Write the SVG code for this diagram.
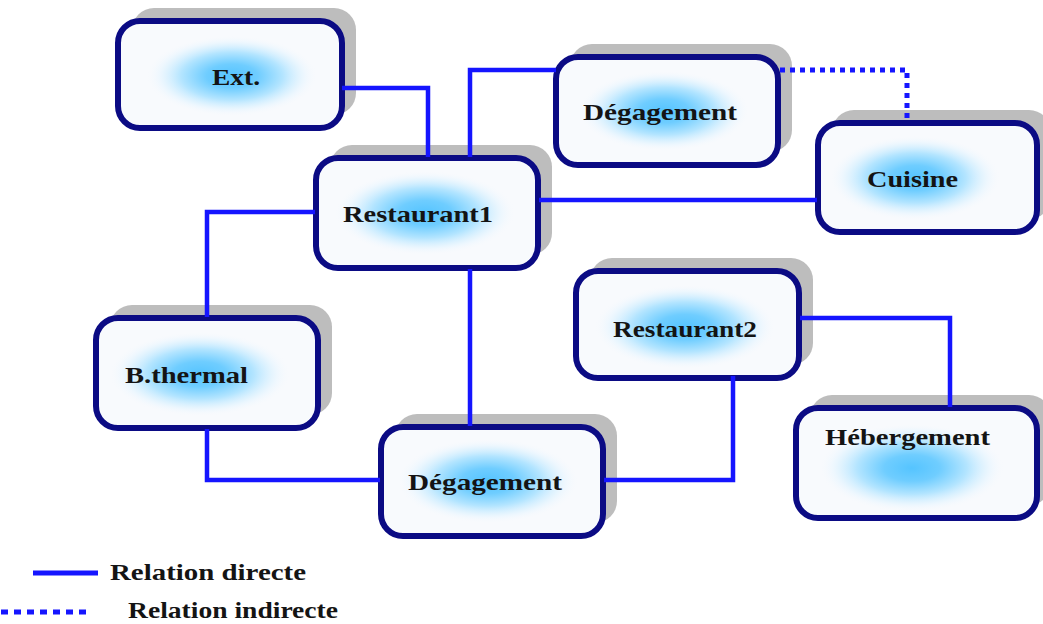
<svg xmlns="http://www.w3.org/2000/svg" width="1043" height="624" viewBox="0 0 1043 624">
<defs>
<radialGradient id="glow" cx="0.5" cy="0.5" r="0.5">
<stop offset="0" stop-color="#55c4ff"/>
<stop offset="0.3" stop-color="#6fcdff"/>
<stop offset="0.6" stop-color="#b4e5ff"/>
<stop offset="0.85" stop-color="#e6f5ff" stop-opacity="0.6"/>
<stop offset="1" stop-color="#f6f9fd" stop-opacity="0"/>
</radialGradient>
<style>
.shadow{fill:#bdbdbd}
.box{fill:#f8fafd;stroke:#0b0b84;stroke-width:6}
.lbl{font-family:"Liberation Serif","Times New Roman",serif;font-weight:bold;font-size:24px;fill:#141414}
.con{fill:none;stroke:#1515ff;stroke-width:4.5}
.dot{fill:none;stroke:#1515ff;stroke-width:5;stroke-dasharray:5 5}
</style>
</defs>
<rect width="1043" height="624" fill="#ffffff"/>

<g id="node-ext">
<rect class="shadow" x="132" y="8" width="224" height="107" rx="22"/>
<rect class="box" x="118" y="21" width="224" height="107" rx="22"/>
<ellipse cx="232" cy="76" rx="85" ry="40" fill="url(#glow)"/>
<text class="lbl" x="212" y="85" textLength="48" lengthAdjust="spacingAndGlyphs">Ext.</text>
</g>

<g id="node-degagement1">
<rect class="shadow" x="570" y="44" width="222" height="108" rx="22"/>
<rect class="box" x="556" y="57" width="222" height="108" rx="22"/>
<ellipse cx="664" cy="111" rx="85" ry="40" fill="url(#glow)"/>
<text class="lbl" x="583" y="120" textLength="154" lengthAdjust="spacingAndGlyphs">Dégagement</text>
</g>

<g id="node-cuisine">
<rect class="shadow" x="832" y="110" width="219" height="109" rx="22"/>
<rect class="box" x="818" y="123" width="219" height="109" rx="22"/>
<ellipse cx="915" cy="178" rx="85" ry="42" fill="url(#glow)"/>
<text class="lbl" x="867" y="187" textLength="91" lengthAdjust="spacingAndGlyphs">Cuisine</text>
</g>

<g id="node-restaurant1">
<rect class="shadow" x="330" y="145" width="222" height="110" rx="22"/>
<rect class="box" x="316" y="158" width="222" height="110" rx="22"/>
<ellipse cx="425" cy="213" rx="90" ry="42" fill="url(#glow)"/>
<text class="lbl" x="343" y="222" textLength="150" lengthAdjust="spacingAndGlyphs">Restaurant1</text>
</g>

<g id="node-bthermal">
<rect class="shadow" x="110" y="305" width="222" height="110" rx="22"/>
<rect class="box" x="96" y="318" width="222" height="110" rx="22"/>
<ellipse cx="200" cy="374" rx="90" ry="42" fill="url(#glow)"/>
<text class="lbl" x="125" y="383" textLength="123" lengthAdjust="spacingAndGlyphs">B.thermal</text>
</g>

<g id="node-degagement2">
<rect class="shadow" x="395" y="414" width="222" height="109" rx="22"/>
<rect class="box" x="381" y="427" width="222" height="109" rx="22"/>
<ellipse cx="488" cy="481" rx="90" ry="42" fill="url(#glow)"/>
<text class="lbl" x="408" y="490" textLength="154" lengthAdjust="spacingAndGlyphs">Dégagement</text>
</g>

<g id="node-restaurant2">
<rect class="shadow" x="590" y="258" width="223" height="107" rx="22"/>
<rect class="box" x="576" y="271" width="223" height="107" rx="22"/>
<ellipse cx="685" cy="327" rx="90" ry="42" fill="url(#glow)"/>
<text class="lbl" x="613" y="337" textLength="144" lengthAdjust="spacingAndGlyphs">Restaurant2</text>
</g>

<g id="node-hebergement">
<rect class="shadow" x="810" y="395" width="241" height="110" rx="22"/>
<rect class="box" x="796" y="408" width="241" height="110" rx="22"/>
<ellipse cx="912" cy="468" rx="92" ry="44" fill="url(#glow)"/>
<text class="lbl" x="825" y="445" textLength="165" lengthAdjust="spacingAndGlyphs">Hébergement</text>
</g>

<g id="connectors">
<polyline class="con" points="342,88 428,88 428,157"/>
<polyline class="con" points="470,157 470,70 556,70"/>
<polyline class="dot" points="780,70 907,70 907,121"/>
<line class="con" x1="539" y1="200" x2="817" y2="200"/>
<polyline class="con" points="315,212 207,212 207,317"/>
<line class="con" x1="470" y1="269" x2="470" y2="426"/>
<polyline class="con" points="207,429 207,480 380,480"/>
<polyline class="con" points="604,480 733,480 733,376"/>
<polyline class="con" points="800,318 950,318 950,407"/>
</g>

<g id="legend">
<line x1="33" y1="573" x2="98" y2="573" stroke="#1515ff" stroke-width="5"/>
<text class="lbl" x="110" y="580" textLength="196" lengthAdjust="spacingAndGlyphs">Relation directe</text>
<line x1="1" y1="612" x2="92" y2="612" stroke="#1515ff" stroke-width="5" stroke-dasharray="7 6"/>
<text class="lbl" x="128" y="618" textLength="210" lengthAdjust="spacingAndGlyphs">Relation indirecte</text>
</g>
</svg>
